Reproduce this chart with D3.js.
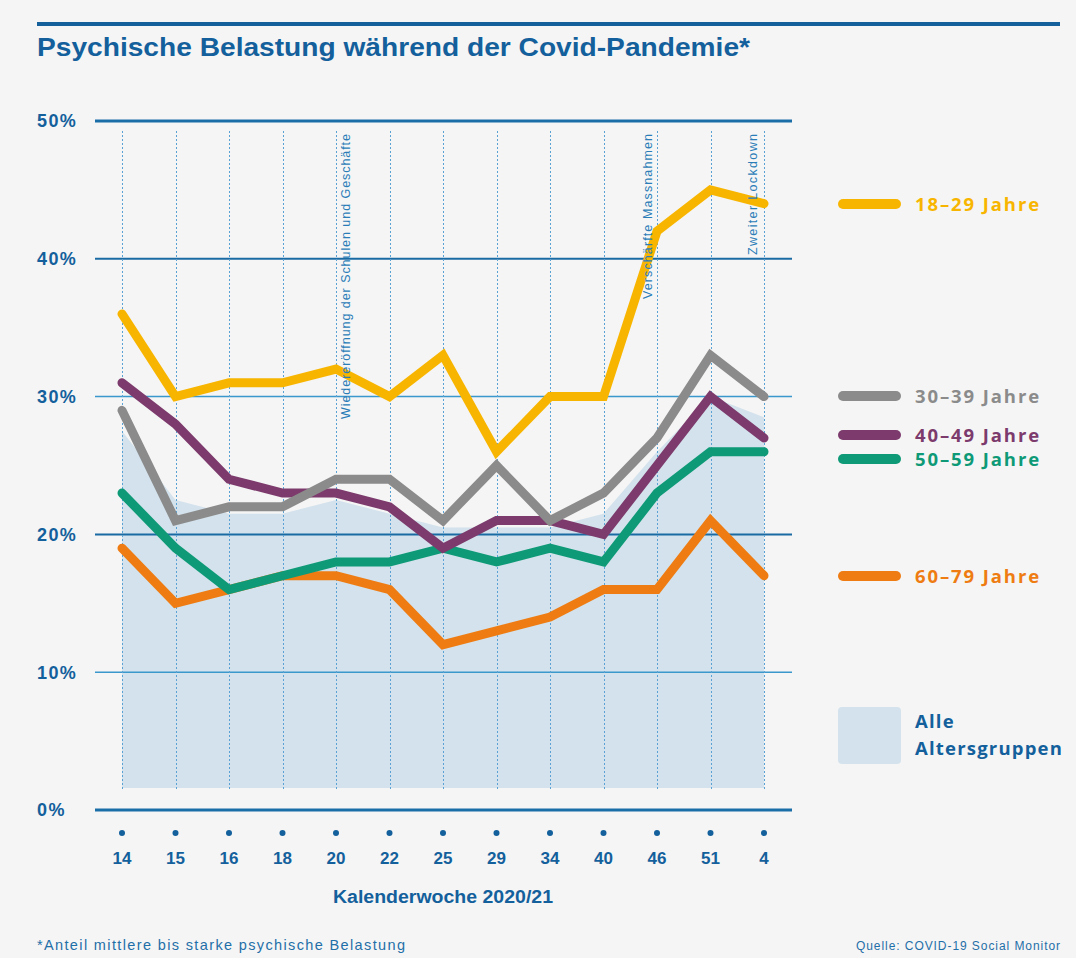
<!DOCTYPE html>
<html><head><meta charset="utf-8">
<script src="https://cdn.jsdelivr.net/npm/d3@7"></script>
<style>
html,body{margin:0;padding:0;background:#f5f5f5;}
svg{display:block;}
</style></head>
<body>
<script>
const weeks = ["14","15","16","18","20","22","25","29","34","40","46","51","4"];
const alle    = [27.5,22.5,21.5,21.5,22.5,21.5,20.5,20.5,20.5,21.5,26,30,28.5];
const s18_29  = [36,30,31,31,32,30,33,26,30,30,42,45,44];
const s30_39  = [29,21,22,22,24,24,21,25,21,23,27,33,30];
const s40_49  = [31,28,24,23,23,22,19,21,21,20,25,30,27];
const s50_59  = [23,19,16,17,18,18,19,18,19,18,23,26,26];
const s60_79  = [19,15,16,17,17,16,12,13,14,16,16,21,17];
const seriesNames = ["18–29 Jahre","30–39 Jahre","40–49 Jahre","50–59 Jahre","60–79 Jahre"];
const yTicks = [0,10,20,30,40,50];
const annotations = [
  {week:"20", text:"Wiedereröffnung der Schulen und Geschäfte"},
  {week:"46", text:"Verschärfte Massnahmen"},
  {week:"4",  text:"Zweiter Lockdown"}
];

const W = 1076, H = 958;
const blue = "#13609c";
const colors = ["#f8b500","#8b8b8b","#7c3b6c","#0e9a77","#ee7c12"];
const seriesData = [s18_29,s30_39,s40_49,s50_59,s60_79];

const svg = d3.select("body").append("svg").attr("width",W).attr("height",H);
svg.append("rect").attr("width",W).attr("height",H).attr("fill","#f5f5f5");

const x = d3.scalePoint().domain(weeks).range([122,764]);
const y = d3.scaleLinear().domain([0,50]).range([810,121]);

// top rule
svg.append("rect").attr("x",37).attr("y",22).attr("width",1023).attr("height",4).attr("fill",blue);

// title
svg.append("text").attr("x",37).attr("y",56)
  .attr("font-family","'Liberation Sans',Arial,sans-serif")
  .attr("font-weight","bold").attr("font-size",25).attr("fill",blue)
  .attr("textLength",713).attr("lengthAdjust","spacingAndGlyphs")
  .text("Psychische Belastung während der Covid-Pandemie*");

// area
const area = d3.area().x((d,i)=>x(weeks[i])).y0(y(1.6)).y1(d=>y(d));
svg.append("path").datum(alle).attr("d",area).attr("fill","#d3e2ec");

// horizontal grid
const g = svg.append("g");
yTicks.forEach(t=>{
  const thick = (t===0||t===50);
  const dark = (t===20||t===40);
  g.append("line").attr("x1",95).attr("x2",792).attr("y1",y(t)).attr("y2",y(t))
    .attr("stroke", thick? "#1a6ea8" : dark ? "#1a6aa3" : "#3b98cc")
    .attr("stroke-width", thick?3:(dark?2:1.5));
  g.append("text").attr("x",37).attr("y",y(t)).attr("dy","0.35em")
    .attr("font-family","'Liberation Sans',Arial,sans-serif").attr("font-weight","bold")
    .attr("font-size",18).attr("letter-spacing","1.4").attr("fill",blue).text(t+"%");
});

// vertical dotted lines
weeks.forEach(w=>{
  const xx = Math.round(x(w))+0.5;
  svg.append("line").attr("x1",xx).attr("x2",xx).attr("y1",131).attr("y2",791)
    .attr("stroke","#5aa2d4").attr("stroke-width",1).attr("stroke-dasharray","2,2");
});

// lines
const line = d3.line().x((d,i)=>x(weeks[i])).y(d=>y(d));
[4,3,2,1,0].forEach(k=>{
  svg.append("path").datum(seriesData[k]).attr("d",line).attr("fill","none")
    .attr("stroke",colors[k]).attr("stroke-width",9).attr("stroke-linejoin","miter")
    .attr("stroke-linecap","round");
});

// annotations (on top of lines)
const annOffset = {"20":10,"46":-9,"4":-11};
const annLen = {"20":285,"46":165,"4":121};
annotations.forEach(a=>{
  const ax = x(a.week)+annOffset[a.week];
  svg.append("text").attr("transform",`translate(${ax},134) rotate(-90)`)
    .attr("text-anchor","end").attr("dy","0.35em")
    .attr("font-family","'Liberation Sans',Arial,sans-serif").attr("font-size",12.5)
    .attr("fill","#2b7db8")
    .attr("textLength",annLen[a.week]).attr("lengthAdjust","spacing")
    .text(a.text);
});

// x axis dots and labels
weeks.forEach(w=>{
  svg.append("circle").attr("cx",x(w)).attr("cy",833).attr("r",3).attr("fill",blue);
  svg.append("text").attr("x",x(w)).attr("y",864).attr("text-anchor","middle")
    .attr("font-family","'Liberation Sans',Arial,sans-serif").attr("font-weight","bold")
    .attr("font-size",17).attr("fill",blue).text(w);
});
svg.append("text").attr("x",443).attr("y",903).attr("text-anchor","middle")
  .attr("font-family","'Liberation Sans',Arial,sans-serif").attr("font-weight","bold")
  .attr("font-size",18).attr("fill",blue)
  .attr("textLength",220).attr("lengthAdjust","spacingAndGlyphs")
  .text("Kalenderwoche 2020/21");

// legend
const legendY = [204,396,435,459,576];
seriesNames.forEach((n,k)=>{
  svg.append("line").attr("x1",843).attr("x2",896).attr("y1",legendY[k]).attr("y2",legendY[k])
    .attr("stroke",colors[k]).attr("stroke-width",10).attr("stroke-linecap","round");
  svg.append("text").attr("x",915).attr("y",legendY[k]).attr("dy","0.36em")
    .attr("font-family","'Open Sans',Roboto,sans-serif").attr("font-weight","bold")
    .attr("font-size",18.5).attr("letter-spacing","1.9").attr("fill",colors[k]).text(n);
});
svg.append("rect").attr("x",838).attr("y",707).attr("width",63).attr("height",57).attr("rx",4)
  .attr("fill","#d3e2ec");
["Alle","Altersgruppen"].forEach((t,i)=>{
  svg.append("text").attr("x",915).attr("y",728+i*27)
    .attr("font-family","'Open Sans',Roboto,sans-serif").attr("font-weight","bold")
    .attr("font-size",18.5).attr("letter-spacing","1.2").attr("fill",blue).text(t);
});

// footer
svg.append("text").attr("x",37).attr("y",950)
  .attr("font-family","'Liberation Sans',Arial,sans-serif").attr("font-size",14.5)
  .attr("textLength",368).attr("lengthAdjust","spacing")
  .attr("fill","#1f6fa8").text("*Anteil mittlere bis starke psychische Belastung");
svg.append("text").attr("x",1060).attr("y",950).attr("text-anchor","end")
  .attr("font-family","'Liberation Sans',Arial,sans-serif").attr("font-size",12)
  .attr("textLength",204).attr("lengthAdjust","spacing")
  .attr("fill","#1f6fa8").text("Quelle: COVID-19 Social Monitor");
</script>
</body></html>
